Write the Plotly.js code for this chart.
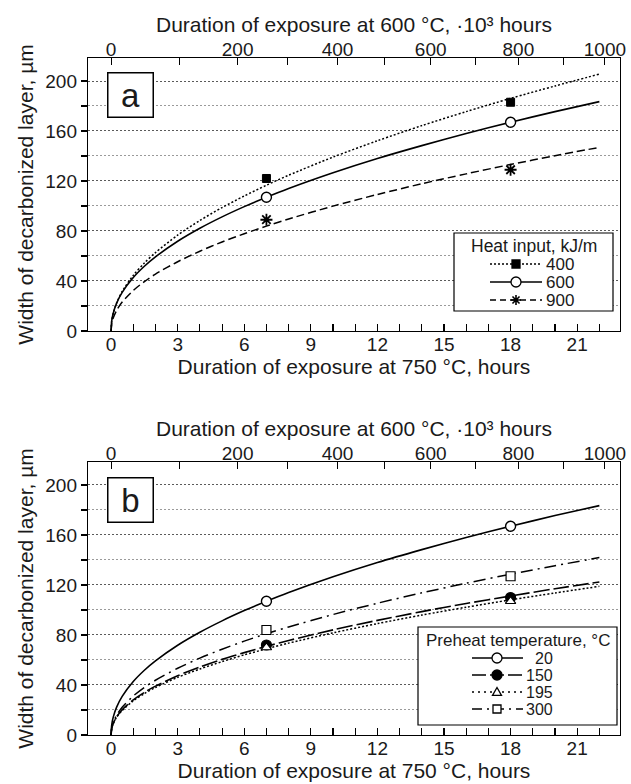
<!DOCTYPE html>
<html>
<head>
<meta charset="utf-8">
<script src="https://cdn.plot.ly/plotly-3.0.1.min.js"></script>
<style>html,body{margin:0;padding:0;background:#fff;}#chart{width:631px;height:784px;}</style>
</head>
<body>
<div id="chart"></div>
<script>
// ---------------- data ----------------
const hours = [0, 0.03, 0.1, 0.25, 0.5, 1, 1.5, 2, 3, 4, 5, 6, 7, 8, 10, 12, 14, 16, 18, 20, 22];
// panel a: heat input, kJ/m
const a400 = [0, 7.8, 14.2, 22.4, 31.6, 44.5, 54.4, 62.7, 76.7, 88.4, 98.7, 108.0, 116.6, 124.6, 139.1, 152.2, 164.3, 175.5, 186.1, 196.0, 205.5];
const a600 = [0, 8.2, 14.5, 22.3, 30.9, 42.8, 51.8, 59.3, 71.8, 82.2, 91.3, 99.5, 107.0, 114.0, 126.6, 138.0, 148.3, 158.0, 167.0, 175.5, 183.5];
const a900 = [0, 5.8, 10.5, 16.4, 23.1, 32.4, 39.5, 45.5, 55.4, 63.8, 71.2, 77.8, 83.9, 89.6, 99.9, 109.2, 117.8, 125.7, 133.2, 140.2, 146.9];
// panel b: preheat temperature, °C
const b20  = [0, 8.2, 14.5, 22.3, 30.9, 42.8, 51.8, 59.3, 71.8, 82.2, 91.3, 99.5, 107.0, 114.0, 126.6, 138.0, 148.3, 158.0, 167.0, 175.5, 183.5];
const b150 = [0, 5.3, 9.4, 14.5, 20.2, 28.1, 34.1, 39.1, 47.4, 54.4, 60.5, 65.9, 70.9, 75.6, 84.1, 91.7, 98.7, 105.2, 111.2, 117.0, 122.4];
const b195 = [0, 5.1, 9.1, 14.1, 19.6, 27.3, 33.1, 38.0, 46.1, 52.8, 58.7, 64.1, 68.9, 73.5, 81.7, 89.1, 95.9, 102.2, 108.1, 113.6, 118.9];
const b300 = [0, 5.6, 10.1, 15.8, 22.2, 31.2, 38.1, 43.8, 53.4, 61.5, 68.6, 75.1, 81.0, 86.4, 96.4, 105.4, 113.7, 121.4, 128.6, 135.4, 141.9];
// measured points
const pointHours = [7, 18];
const a400Pts = [122, 183];
const a600Pts = [107, 167];
const a900Pts = [89, 129];
const b20Pts  = [107, 167];
const b150Pts = [72, 110];
const b195Pts = [70, 107];
const b300Pts = [84, 127];
// axes
const bottomTickVals = [0, 3, 6, 9, 12, 15, 18, 21];
const bottomTickText = ["0", "3", "6", "9", "12", "15", "18", "21"];
const topTickHours = [0, 5.7, 10.2, 14.4, 18.35, 22.25];           // 0, 200, ..., 1000 (·10³ h at 600 °C)
const topTickText = ["0", "200", "400", "600", "800", "1000"];
const topMinorHours = [3.1, 7.95, 12.3, 16.4, 20.4];               // 100, 300, ..., 900
const yTickVals = [0, 40, 80, 120, 160, 200];
const yTickText = ["0", "40", "80", "120", "160", "200"];
const legendA = ["400", "600", "900"];
const legendB = ["20", "150", "195", "300"];

// ---------------- styling ----------------
const FONT = "Liberation Sans, Arial, sans-serif";
const TXT = "#1a1a1a";
const XR = [-1.04, 22.93];
const YR = [0, 218.4];

function curve(y, xa, ya, dash, w) {
  return {x: hours, y: y, xaxis: xa, yaxis: ya, mode: "lines", showlegend: false,
    hoverinfo: "skip", line: {color: "black", width: w || 1.5, dash: dash, shape: "spline", smoothing: 0.8}};
}
function pts(y, xa, ya, symbol, fill, size, lw) {
  return {x: pointHours, y: y, xaxis: xa, yaxis: ya, mode: "markers", showlegend: false,
    marker: {symbol: symbol, size: size, color: fill, line: {color: "black", width: lw}}};
}
// invisible carriers so that the top (secondary) axes get drawn
function carrier(y, xa, ya) {
  return {x: hours, y: y, xaxis: xa, yaxis: ya, mode: "lines", showlegend: false, hoverinfo: "skip",
    opacity: 0, line: {width: 0, color: "rgba(0,0,0,0)"}};
}

const traces = [
  carrier(a600, "x2", "y"),
  carrier(a600, "x5", "y"),
  carrier(b20, "x4", "y2"),
  carrier(b20, "x6", "y2"),
  curve(a400, "x", "y", "2px,2px", 1.5),
  curve(a600, "x", "y", "solid", 1.6),
  curve(a900, "x", "y", "8px,4px", 1.5),
  pts(a400Pts, "x", "y", "square", "black", 8, 1),
  pts(a600Pts, "x", "y", "circle", "white", 10, 1.4),
  pts(a900Pts, "x", "y", "asterisk-open", "black", 10, 1.8),

  curve(b20, "x3", "y2", "solid", 1.6),
  curve(b150, "x3", "y2", "16px,4px", 1.6),
  curve(b195, "x3", "y2", "2px,2px", 1.5),
  curve(b300, "x3", "y2", "12px,5px,2px,5px", 1.5),
  pts(b20Pts, "x3", "y2", "circle", "white", 10, 1.4),
  pts(b150Pts, "x3", "y2", "circle", "black", 10, 1.2),
  pts(b195Pts, "x3", "y2", "triangle-up", "white", 9, 1.2),
  pts(b300Pts, "x3", "y2", "square", "white", 9, 1.2)
];

const tickFont = {family: FONT, size: 19, color: TXT};
const titleFont = {family: FONT, size: 21, color: TXT};

function bottomAxis(anchor) {
  return {range: XR, anchor: anchor, showline: true, linecolor: "black", linewidth: 1.2, mirror: true,
    tickmode: "array", tickvals: bottomTickVals, ticktext: bottomTickText,
    ticks: "inside", ticklen: 7, tickcolor: "black", tickwidth: 1.1, ticklabelstandoff: -4,
    minor: {dtick: 1, tick0: 0, ticks: "inside", ticklen: 7, tickcolor: "black", tickwidth: 1.1},
    showgrid: false, zeroline: false, tickfont: tickFont,
    title: {text: "Duration of exposure at 750 °C, hours", font: titleFont, standoff: 4}};
}
function topAxis(overlay, anchor) {
  return {range: XR, overlaying: overlay, anchor: anchor, side: "top", showline: true, linecolor: "black", linewidth: 1.2,
    tickmode: "array", tickvals: topTickHours, ticktext: topTickText,
    ticks: "inside", ticklen: 7, tickcolor: "black", tickwidth: 1.1, ticklabelstandoff: -7,
    showgrid: false, zeroline: false, tickfont: tickFont,
    title: {text: "Duration of exposure at 600 °C, ·10³ hours", font: titleFont, standoff: 0}};
}
function topMinorAxis(overlay, anchor) {
  return {range: XR, overlaying: overlay, anchor: anchor, side: "top", showline: false,
    tickmode: "array", tickvals: topMinorHours, showticklabels: false,
    ticks: "inside", ticklen: 7, tickcolor: "black", tickwidth: 1.1,
    showgrid: false, zeroline: false};
}
function yAxis(domain, anchor) {
  return {domain: domain, range: YR, anchor: anchor, showline: true, linecolor: "black", linewidth: 1.2, mirror: true,
    tickmode: "array", tickvals: yTickVals, ticktext: yTickText,
    ticks: "outside", ticklen: 6, tickcolor: "black", tickwidth: 1.1,
    showgrid: true, gridcolor: "#5a5a5a", griddash: "2px,2px", gridwidth: 1,
    minor: {dtick: 20, tick0: 0, ticks: "outside", ticklen: 6, tickcolor: "black", tickwidth: 1.1,
            showgrid: true, gridcolor: "#9a9a9a", griddash: "2px,2px", gridwidth: 1},
    zeroline: false, tickfont: tickFont,
    title: {text: "Width of decarbonized layer, µm", font: titleFont, standoff: 6}};
}

// pixel -> paper helpers (plot area 88..620 x 58..735)
const PX = p => (p - 88) / 532;
const PY = p => (735 - p) / 677;

const shapes = [];
const annotations = [];

function legendBox(x0, x1, y0, y1) {
  shapes.push({type: "rect", xref: "paper", yref: "paper", x0: PX(x0), x1: PX(x1), y0: PY(y1), y1: PY(y0),
    fillcolor: "white", line: {color: "black", width: 1.2}, layer: "above"});
}
function legendLine(x0, x1, y, dash, w) {
  shapes.push({type: "line", xref: "paper", yref: "paper", x0: PX(x0), x1: PX(x1), y0: PY(y), y1: PY(y),
    line: {color: "black", width: w, dash: dash}, layer: "above"});
}
function legendMarker(kind, cx, cy, r, fill) {
  const base = {xref: "paper", yref: "paper", line: {color: "black", width: 1.3}, fillcolor: fill, layer: "above"};
  if (kind === "circle") {
    shapes.push(Object.assign({type: "circle", x0: PX(cx - r), x1: PX(cx + r), y0: PY(cy + r), y1: PY(cy - r)}, base));
  } else if (kind === "square") {
    shapes.push(Object.assign({type: "rect", x0: PX(cx - r), x1: PX(cx + r), y0: PY(cy + r), y1: PY(cy - r)}, base));
  } else if (kind === "triangle") {
    shapes.push(Object.assign({type: "path",
      path: `M ${PX(cx)} ${PY(cy - r)} L ${PX(cx + r)} ${PY(cy + r * 0.75)} L ${PX(cx - r)} ${PY(cy + r * 0.75)} Z`}, base));
  } else if (kind === "asterisk") {
    const d = r * 0.707;
    shapes.push({type: "path", xref: "paper", yref: "paper", layer: "above", line: {color: "black", width: 1.6},
      path: `M ${PX(cx - r)} ${PY(cy)} L ${PX(cx + r)} ${PY(cy)} M ${PX(cx)} ${PY(cy - r)} L ${PX(cx)} ${PY(cy + r)} ` +
            `M ${PX(cx - d)} ${PY(cy - d)} L ${PX(cx + d)} ${PY(cy + d)} M ${PX(cx - d)} ${PY(cy + d)} L ${PX(cx + d)} ${PY(cy - d)}`});
  }
}
function legendText(text, x, y, anchor, size) {
  annotations.push({xref: "paper", yref: "paper", x: PX(x), y: PY(y), xanchor: anchor, yanchor: "middle",
    text: text, showarrow: false, font: {family: FONT, size: size, color: TXT}});
}

// legend a
legendBox(454, 613, 233, 311);
legendText("Heat input, kJ/m", 534, 246, "center", 17.5);
const aRows = [264, 282, 300];
const aDash = ["2px,2px", "solid", "6px,4px"];
const aMark = [["square", 4, "black"], ["circle", 5, "white"], ["asterisk", 5, "black"]];
for (let i = 0; i < legendA.length; i++) {
  legendLine(490, 542, aRows[i], aDash[i], 1.5);
  legendMarker(aMark[i][0], 516, aRows[i], aMark[i][1], aMark[i][2]);
  legendText(legendA[i], 544, aRows[i], "left", 17);
}
// legend b
legendBox(418, 617, 627, 725);
legendText("Preheat temperature, °C", 517.5, 640, "center", 17);
const bRows = [658, 675, 692, 709];
const bDash = ["solid", "14px,4px", "2px,4px", "10px,5px,2px,5px"];
const bMark = [["circle", 5, "white"], ["circle", 5, "black"], ["triangle", 4.5, "white"], ["square", 4, "white"]];
for (let i = 0; i < legendB.length; i++) {
  legendLine(472, 523, bRows[i], bDash[i], 1.5);
  legendMarker(bMark[i][0], 497, bRows[i], bMark[i][1], bMark[i][2]);
  legendText(legendB[i], 555, bRows[i], "right", 16);
}

// panel letters
annotations.push({xref: "x domain", yref: "y domain", x: 0.0795, y: 0.864, xanchor: "center", yanchor: "middle",
  text: "a", showarrow: false, font: {family: FONT, size: 33, color: TXT},
  bordercolor: "black", borderwidth: 1.5, width: 42, height: 41, bgcolor: "white"});
annotations.push({xref: "x3 domain", yref: "y2 domain", x: 0.0795, y: 0.861, xanchor: "center", yanchor: "middle",
  text: "b", showarrow: false, font: {family: FONT, size: 33, color: TXT},
  bordercolor: "black", borderwidth: 1.5, width: 42, height: 41, bgcolor: "white"});

const layout = {
  width: 631, height: 784,
  margin: {l: 88, r: 11, t: 58, b: 49},
  paper_bgcolor: "white", plot_bgcolor: "white",
  showlegend: false,
  font: {family: FONT, color: TXT},
  xaxis: bottomAxis("y"),
  xaxis2: topAxis("x", "y"),
  xaxis5: topMinorAxis("x", "y"),
  yaxis: yAxis([0.5968, 1], "x"),
  xaxis3: bottomAxis("y2"),
  xaxis4: topAxis("x3", "y2"),
  xaxis6: topMinorAxis("x3", "y2"),
  yaxis2: yAxis([0, 0.4033], "x3"),
  shapes: shapes,
  annotations: annotations
};

Plotly.newPlot("chart", traces, layout, {staticPlot: true, displayModeBar: false});
</script>
</body>
</html>
